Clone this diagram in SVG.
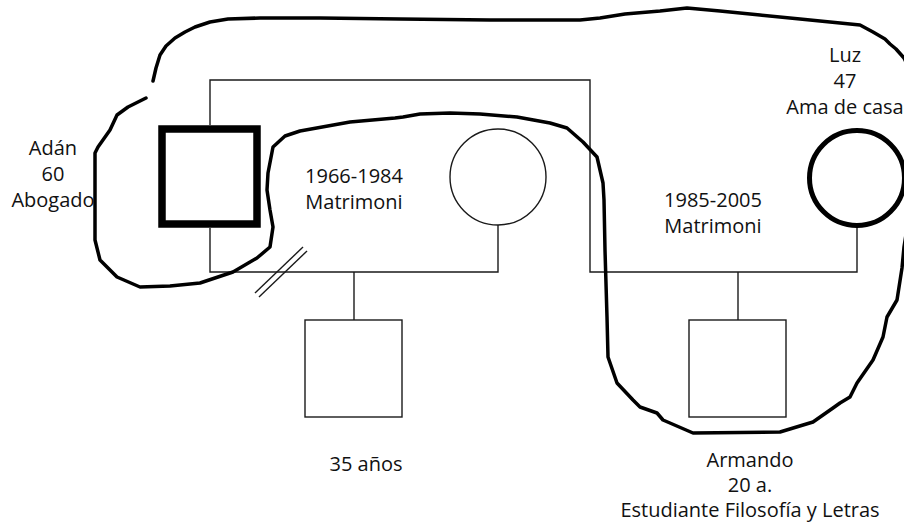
<svg xmlns="http://www.w3.org/2000/svg" width="904" height="527" viewBox="0 0 904 527">
<style>
.ln{fill:none;stroke:#1a1a1a;stroke-width:1.4}
.sh{fill:#fff;stroke:#1a1a1a;stroke-width:1.4}
.hand{fill:none;stroke:#000;stroke-width:3.5;stroke-linejoin:round;stroke-linecap:round}
text{font-family:"Open Sans","Noto Sans",sans-serif;font-size:20px;fill:#111;text-anchor:middle}
</style>
<rect width="904" height="527" fill="#fff"/>
<g id="connectors">
<polyline class="ln" points="210,125 210,80 590,80 590,272 857,272 857,228"/>
<polyline class="ln" points="210,228 210,272 498,272 498,225"/>
<line class="ln" x1="354" y1="272" x2="354" y2="320"/>
<line class="ln" x1="738" y1="272" x2="738" y2="320"/>
<line class="ln" x1="255" y1="293" x2="303" y2="247"/>
<line class="ln" x1="259" y1="297" x2="307" y2="251"/>
</g>
<g id="adan">
<rect x="162" y="129" width="95" height="95" fill="#fff" stroke="#000" stroke-width="7.5"/>
<text x="53" y="155">Adán</text>
<text x="53" y="181">60</text>
<text x="53" y="207">Abogado</text>
</g>
<g id="esposa1">
<circle class="sh" cx="498" cy="177" r="48"/>
</g>
<g id="luz">
<circle cx="857" cy="178" r="47.5" fill="#fff" stroke="#000" stroke-width="5"/>
<text x="845" y="62">Luz</text>
<text x="845" y="88">47</text>
<text x="845" y="114">Ama de casa</text>
</g>
<g id="matrimonio1">
<text x="354" y="183">1966-1984</text>
<text x="354" y="209">Matrimoni</text>
</g>
<g id="matrimonio2">
<text x="713" y="207">1985-2005</text>
<text x="713" y="233">Matrimoni</text>
</g>
<g id="hijo1">
<rect class="sh" x="305" y="320" width="97" height="97"/>
<text x="366" y="471">35 años</text>
</g>
<g id="armando">
<rect class="sh" x="689" y="320" width="97" height="97"/>
<text x="750" y="467">Armando</text>
<text x="750" y="492">20 a.</text>
<text x="750" y="517">Estudiante Filosofía y Letras</text>
</g>
<g id="limite">
<path class="hand" d="M153,81 L156,68 L160,55 L166,46 L175,38 L185,32 L195,27 L210,22 L228,19 L260,18 L320,18 L400,19 L490,20 L580,20 L600,18 L625,14 L660,11 L687,8 L720,11 L760,15 L800,19 L840,23 L860,25 L873,32 L885,39 L890,44 L896,49 L904,58 L912,75 L914,150 L910,210 L904,247 L902,268 L897,300 L887,317 L883,337 L873,360 L857,383 L850,397 L840,403 L833,408 L813,422 L780,432 L693,433 L663,420 L657,413 L640,407 L633,400 L617,383 L608,357 L607,317 L605,250 L604,200 L603,183 L597,157 L583,142 L567,128 L550,123 L517,117 L480,114 L450,113 L420,114 L403,117 L395,118 L350,122 L300,131 L285,136 L273,147 L268,173 L267,190 L270,210 L273,227 L270,247 L257,258 L233,272 L200,283 L170,286 L140,287 L117,277 L100,260 L95,240 L95,153 L98,147 L110,130 L117,115 L128,107 L146,98"/>
</g>
</svg>
